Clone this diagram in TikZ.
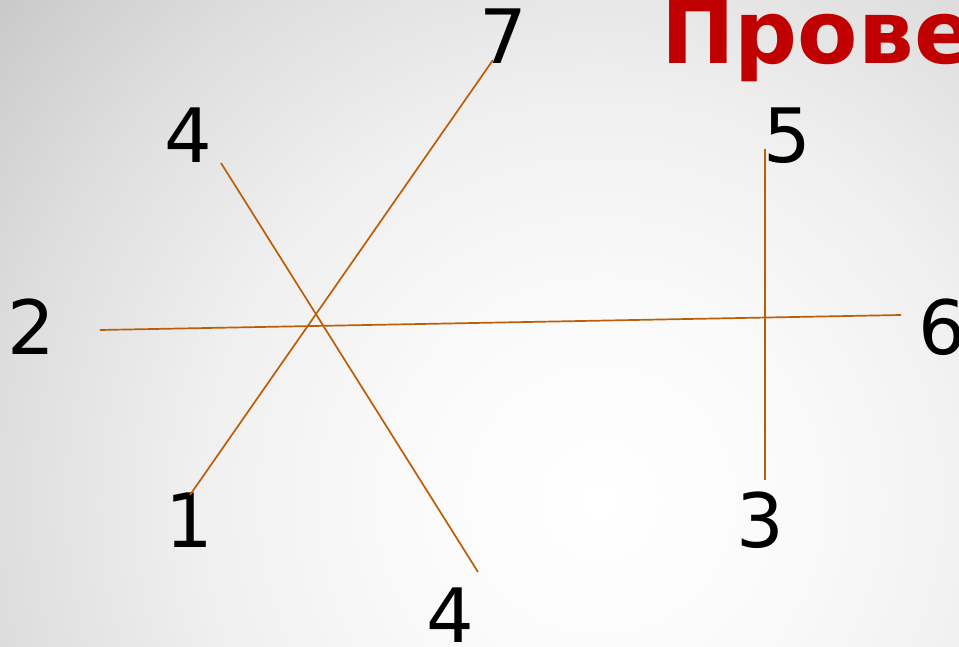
\documentclass[tikz,border=0pt]{standalone}
\usepackage{fontspec}
\setmainfont{DejaVu Sans}
\usetikzlibrary{positioning}

\definecolor{linebrown}{RGB}{188,94,6}
\definecolor{titlered}{RGB}{192,0,0}
% 25bp of the shading = radius of the shaded circle
\pgfdeclareradialshading{slidebg}{\pgfpoint{0bp}{0bp}}{color(0bp)=(white); color(5bp)=(black!2); color(10bp)=(black!6); color(15bp)=(black!13); color(20bp)=(black!22); color(25bp)=(black!31); color(50bp)=(black!31)}

\tikzset{
  num/.style={inner sep=0pt, font=\fontsize{75}{75}\selectfont},
  seg/.style={draw=linebrown, line width=1.7pt}
}

\begin{document}
\begin{tikzpicture}[x=1pt, y=-1pt]
\useasboundingbox (0,0) rectangle (959,647);
\clip (0,0) rectangle (959,647);
% background
\shade[shading=slidebg] (600,500) circle (1000);

% title
\node[inner sep=0pt, anchor=base west, text=titlered, font=\fontsize{88}{88}\selectfont\bfseries] (title) at (661,64) {Прове};

% numbers
\node[num] (n7) at (503,36) {7};
\node[num] (n4a) at (188,135) {4};
\node[num] (n5) at (787,136) {5};
\node[num] (n2) at (31,327) {2};
\node[num] (n6) at (942,327) {6};
\node[num] (n1) at (189,520) {1};
\node[num] (n3) at (760,520) {3};
\node[num] (n4b) at (450,615) {4};

% line ends
\coordinate (a1) at (190,495);
\coordinate (a7) at (493,60);
\coordinate (b4) at (221,163);
\coordinate (c4) at (478,572);
\coordinate (d2) at (100,330);
\coordinate (d6) at (901,315);
\coordinate (e5) at (765,149);
\coordinate (e3) at (765,480);

\draw[seg] (a1) -- (a7);
\draw[seg] (b4) -- (c4);
\draw[seg] (d2) -- (d6);
\draw[seg] (e5) -- (e3);
\end{tikzpicture}
\end{document}
